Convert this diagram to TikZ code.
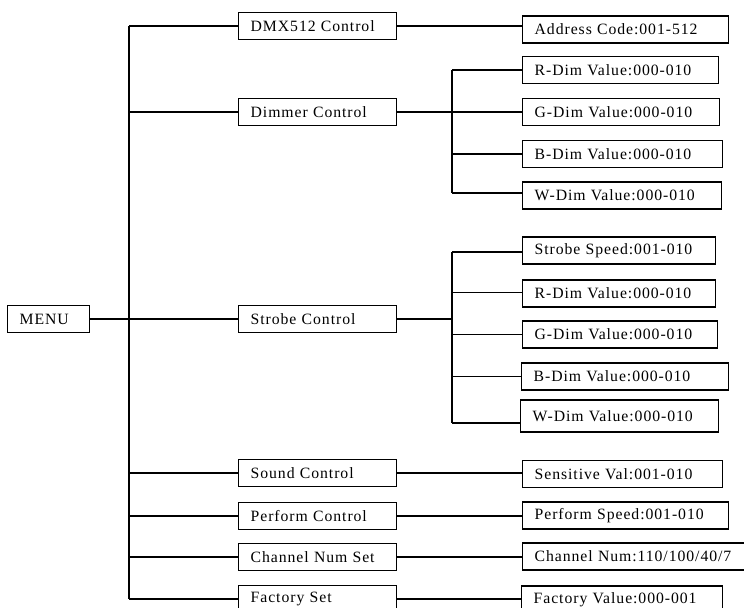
\documentclass[tikz,border=0pt]{standalone}
\usepackage{fontspec}
\setmainfont{Liberation Serif}[LetterSpace=6]
\begin{document}
\begin{tikzpicture}[x=0.75pt,y=-0.75pt,
  box/.style={draw,line width=1pt,anchor=west,minimum height=20.25pt,inner xsep=9pt,inner ysep=0pt,align=left,font=\fontsize{11.8}{13}\selectfont},
  lone/.style={box,text width=100.5pt},
  wire/.style={line width=1pt}]
\clip (0,0) rectangle (744,608);
\useasboundingbox (0,0) rectangle (744,608);
% root
\node[box,text width=43.5pt] (menu) at (7,319) {MENU};
% level 1
\node[lone] (dmx) at (238,26) {DMX512 Control};
\node[lone] (dim) at (238,112) {Dimmer Control};
\node[lone] (str) at (238,319) {Strobe Control};
\node[lone] (snd) at (238,473) {Sound Control};
\node[lone] (prf) at (238,516) {Perform Control};
\node[lone] (chn) at (238,557) {Channel Num Set};
\node[lone] (fac) at (238,599) {Factory Set};
% level 2
\node[box,text width=136.5pt] (addr) at (522,29.5) {Address Code:001-512};
\node[box,text width=129pt] (dr) at (522,70) {R-Dim Value:000-010};
\node[box,text width=129.75pt] (dg) at (522,112) {G-Dim Value:000-010};
\node[box,text width=132pt] (db) at (522,154) {B-Dim Value:000-010};
\node[box,text width=131.25pt] (dw) at (522,195.5) {W-Dim Value:000-010};
\node[box,text width=126.75pt] (ss) at (522,250.5) {Strobe Speed:001-010};
\node[box,text width=126.75pt] (sr) at (522,293.5) {R-Dim Value:000-010};
\node[box,text width=128.25pt] (sg) at (522,334.5) {G-Dim Value:000-010};
\node[box,text width=137.25pt] (sb) at (521,376.5) {B-Dim Value:000-010};
\node[box,text width=130.5pt,minimum height=24pt] (sw) at (520,416) {W-Dim Value:000-010};
\node[box,text width=132pt] (sens) at (522,474) {Sensitive Val:001-010};
\node[box,text width=136.5pt] (pspd) at (522,515.5) {Perform Speed:001-010};
\node[box,text width=160pt] (cnum) at (522,556.5) {Channel Num:110/100/40/7};
\node[box,text width=132.75pt] (fval) at (521,599.5) {Factory Value:000-001};
% junction coordinates
\coordinate (tr) at (129,0);
\coordinate (bx) at (452,0);
% trunk
\draw[wire] (dmx.west -| tr) -- (fac.west -| tr);
\draw[wire] (menu.east) -- (str.west);
\foreach \n in {dmx,dim,snd,prf,chn,fac} \draw[wire] (\n.west -| tr) -- (\n.west);
% single leaves
\draw[wire] (dmx.east) -- (dmx.east -| addr.west);
\draw[wire] (snd.east) -- (snd.east -| sens.west);
\draw[wire] (prf.east) -- (prf.east -| pspd.west);
\draw[wire] (chn.east) -- (chn.east -| cnum.west);
\draw[wire] (fac.east) -- (fac.east -| fval.west);
% dimmer branch
\draw[wire] (dim.east) -- (dim.east -| bx);
\draw[wire] (dr.west -| bx) -- ([yshift=1.9pt]dw.west -| bx);
\foreach \n in {dr,dg,db} \draw[wire] (\n.west -| bx) -- (\n.west);
\draw[wire] ([yshift=1.9pt]dw.west -| bx) -- ([yshift=1.9pt]dw.west);
% strobe branch
\draw[wire] (str.east) -- (str.east -| bx);
\draw[wire] ([yshift=-1pt]ss.west -| bx) -- ([yshift=-5.2pt]sw.west -| bx);
\draw[wire] ([yshift=-1pt]ss.west -| bx) -- ([yshift=-1pt]ss.west);
\draw[wire] ([yshift=1pt]sr.west -| bx) -- ([yshift=1pt]sr.west);
\foreach \n in {sg,sb} \draw[wire] (\n.west -| bx) -- (\n.west);
\draw[wire] ([yshift=-5.2pt]sw.west -| bx) -- ([yshift=-5.2pt]sw.west);
\end{tikzpicture}
\end{document}
